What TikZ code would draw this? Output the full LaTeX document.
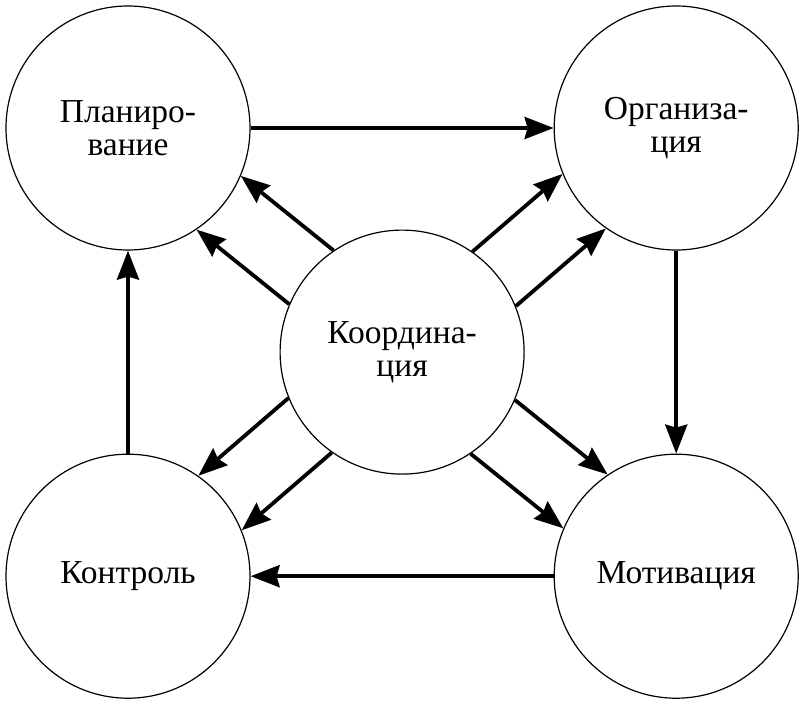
\documentclass[tikz,border=0pt]{standalone}
\usepackage{fontspec}
\setmainfont{Liberation Serif}
\usetikzlibrary{arrows.meta, positioning, calc}

\begin{document}
\begin{tikzpicture}[
  x=1pt, y=1pt,
  node distance=203pt and 303pt,
  func/.style={circle, draw, line width=1.2pt, minimum size=244pt, inner sep=0pt, align=center, font=\fontsize{33.5}{33}\selectfont},
  arr/.style={-{Stealth[length=29pt, width=22pt, inset=3pt]}, line width=3.8pt},
]
\node[func] (plan) {Планиро-\\вание};
\node[func, right=of plan] (org) {Организа-\\ция};
\node[func, below=of plan] (ctrl) {Контроль};
\node[func, below=of org] (mot) {Мотивация};
\node[func] (coord) at ($(plan)!0.5!(mot)$) {Координа-\\ция};

\useasboundingbox (-128,128) rectangle (674,-576);

% circle of functions
\draw[arr] (plan) -- (org);
\draw[arr] (org) -- (mot);
\draw[arr] (mot) -- (ctrl);
\draw[arr] (ctrl) -- (plan);

% coordination links, two per function
\foreach \tgt/\ang in {plan/140.9, org/39.1, ctrl/219.1, mot/320.9} {
  \pgfmathsetmacro{\ta}{\ang-16.2}
  \pgfmathsetmacro{\tb}{\ang+16.2}
  \pgfmathsetmacro{\ha}{\ang+180+16.2}
  \pgfmathsetmacro{\hb}{\ang+180-16.2}
  \draw[arr] (coord.\ta) -- (\tgt.\ha);
  \draw[arr] (coord.\tb) -- (\tgt.\hb);
}
\end{tikzpicture}
\end{document}
